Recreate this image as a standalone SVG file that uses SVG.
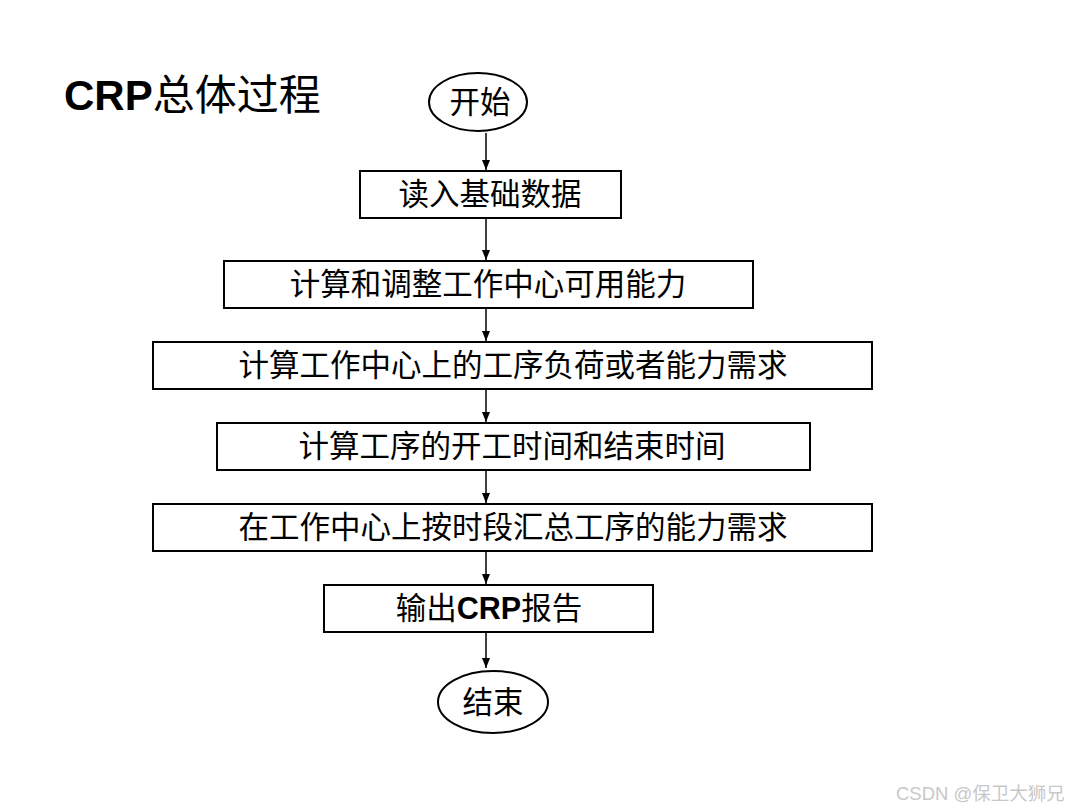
<svg xmlns="http://www.w3.org/2000/svg" width="1080" height="810" viewBox="0 0 1080 810">
<style>
.box{fill:#fff;stroke:#000;stroke-width:2}
.t{font-family:"Liberation Sans","Noto Sans CJK SC",sans-serif;font-size:30.5px;fill:#000;text-anchor:middle}
.c{stroke:#000;stroke-width:1.5;fill:none;marker-end:url(#ah)}
</style>
<defs>
<marker id="ah" viewBox="0 0 10 10" refX="10" refY="5" markerWidth="10" markerHeight="10" markerUnits="userSpaceOnUse" orient="auto">
<path d="M0,1 L10,5 L0,9 Z" fill="#000"/>
</marker>
</defs>
<rect width="1080" height="810" fill="#fff"/>
<text x="64" y="110" style="font-family:'Liberation Sans','Noto Sans CJK SC',sans-serif;font-size:42px;fill:#000"><tspan font-weight="bold">CRP</tspan>总体过程</text>
<g id="connectors">
<line class="c" x1="486" y1="133" x2="486" y2="170"/>
<line class="c" x1="486" y1="219" x2="486" y2="260"/>
<line class="c" x1="486" y1="309" x2="486" y2="341"/>
<line class="c" x1="486" y1="390" x2="486" y2="422"/>
<line class="c" x1="486" y1="471" x2="486" y2="503"/>
<line class="c" x1="486" y1="552" x2="486" y2="584"/>
<line class="c" x1="486" y1="633" x2="486" y2="668"/>
</g>
<g id="start"><ellipse class="box" cx="478" cy="102" rx="49" ry="29"/><text class="t" x="480" y="113">开始</text></g>
<g id="n1"><rect class="box" x="360" y="171" width="261" height="47"/><text class="t" x="490" y="205">读入基础数据</text></g>
<g id="n2"><rect class="box" x="224" y="261" width="529" height="47"/><text class="t" x="488" y="295">计算和调整工作中心可用能力</text></g>
<g id="n3"><rect class="box" x="153" y="342" width="719" height="47"/><text class="t" x="513" y="376">计算工作中心上的工序负荷或者能力需求</text></g>
<g id="n4"><rect class="box" x="217" y="423" width="593" height="47"/><text class="t" x="512" y="457">计算工序的开工时间和结束时间</text></g>
<g id="n5"><rect class="box" x="153" y="504" width="719" height="47"/><text class="t" x="513" y="538">在工作中心上按时段汇总工序的能力需求</text></g>
<g id="n6"><rect class="box" x="324" y="585" width="329" height="47"/><text class="t" x="489" y="619">输出<tspan font-weight="bold">CRP</tspan>报告</text></g>
<g id="end"><ellipse class="box" cx="493" cy="702" rx="55" ry="31"/><text class="t" x="493" y="713">结束</text></g>
<text x="896" y="800" style="font-family:'Liberation Sans','Noto Sans CJK SC',sans-serif;font-size:18.5px;fill:#c8c8c8">CSDN @保卫大狮兄</text>
</svg>
